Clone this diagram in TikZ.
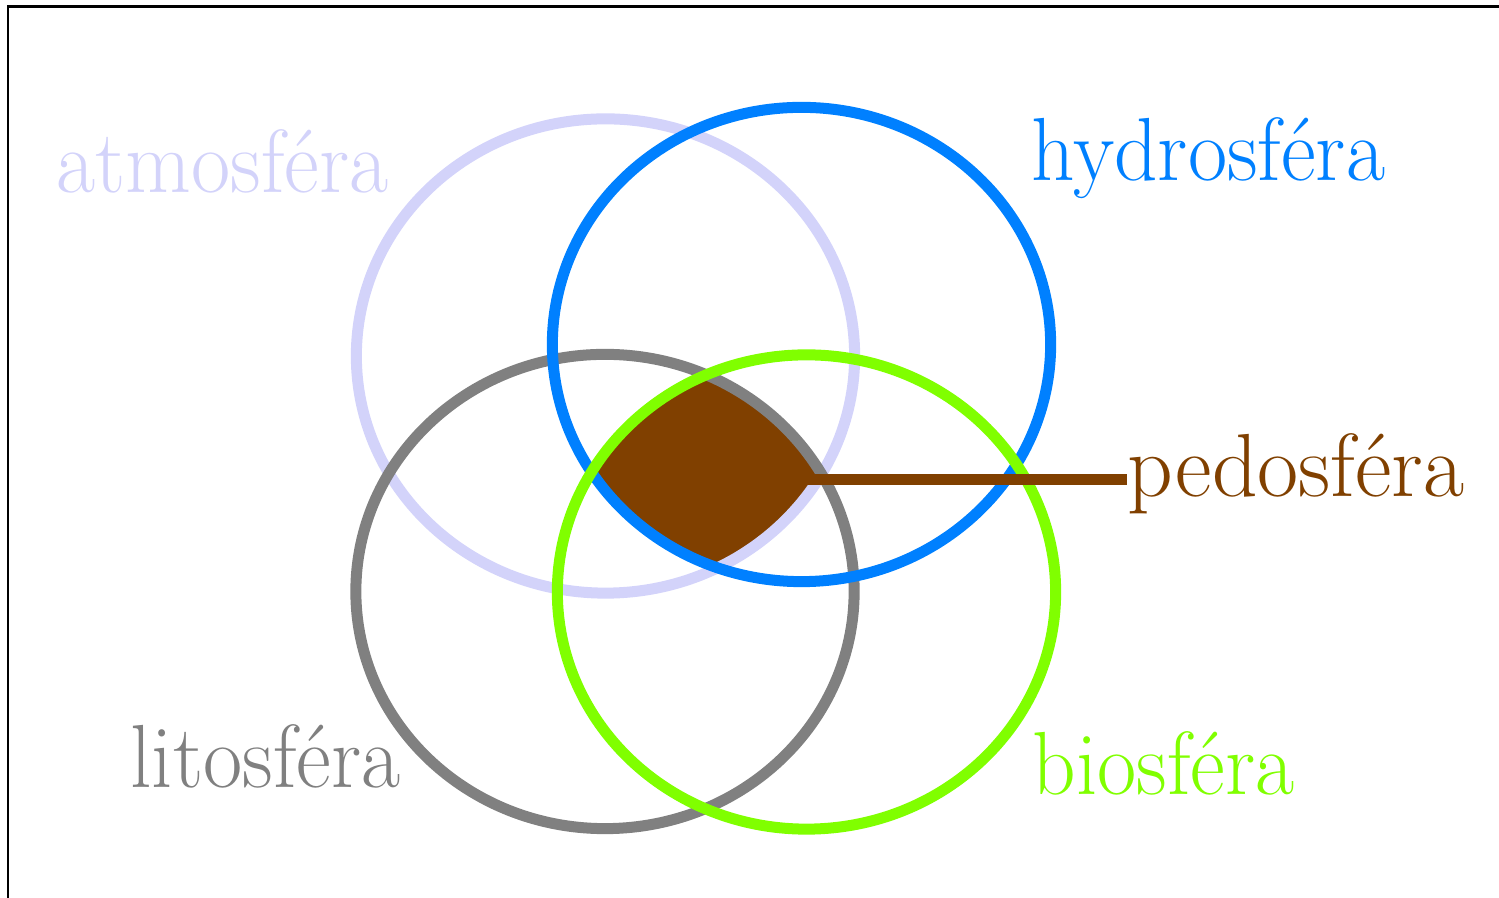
\documentclass[tikz,border=0pt]{standalone}
\usepackage{tikz}
\definecolor{atmocol}{RGB}{211,211,250}
\definecolor{hydrocol}{RGB}{0,128,255}
\definecolor{litocol}{RGB}{128,128,128}
\definecolor{biocol}{RGB}{128,255,0}
\definecolor{pedocol}{RGB}{128,64,0}
\tikzset{
  sphere/.style={line width=0.11cm},
  spherelabel/.style={font=\fontsize{25.5}{25.5}\selectfont, xscale=0.95, anchor=base west, inner sep=0pt},
  pedoline/.style={line width=0.11cm, draw=pedocol}
}

\begin{document}
\begin{tikzpicture}[x=0.01cm, y=-0.01cm]
  \useasboundingbox (0,0) rectangle (1499,898);
  % frame
  \draw[line width=0.6pt] (8,898) -- (8,6.5) -- (1499,6.5);

  % common part of all four spheres
  \begin{scope}
    \clip (605.5,356) ellipse [x radius=2.49cm, y radius=2.37cm];
    \clip (801.5,344.5) ellipse [x radius=2.49cm, y radius=2.37cm];
    \clip (605,591.5) ellipse [x radius=2.49cm, y radius=2.37cm];
    \clip (806.5,592) ellipse [x radius=2.49cm, y radius=2.37cm];
    \fill[pedocol] (300,100) rectangle (1100,850);
  \end{scope}

  \draw[sphere, atmocol] (605.5,356) ellipse [x radius=2.49cm, y radius=2.37cm];
  \draw[sphere, litocol] (605,591.5) ellipse [x radius=2.49cm, y radius=2.37cm];
  \draw[sphere, hydrocol] (801.5,344.5) ellipse [x radius=2.49cm, y radius=2.37cm];
  \draw[sphere, biocol] (806.5,592) ellipse [x radius=2.49cm, y radius=2.37cm];

  % labels
  \node[spherelabel, text=atmocol] (atmo) at (56,193) {atmosféra};
  \node[spherelabel, text=hydrocol] (hydro) at (1031,181) {hydrosféra};
  \node[spherelabel, text=litocol] (lito) at (130,788) {litosféra};
  \node[spherelabel, text=biocol] (bio) at (1032,795) {biosféra};
  \node[spherelabel, text=pedocol, xscale=1.05] (pedo) at (1127,497) {pedosféra};

  \coordinate (pedotip) at (800,480);
  \draw[pedoline] (pedotip) -- (pedotip -| pedo.west);
\end{tikzpicture}
\end{document}
